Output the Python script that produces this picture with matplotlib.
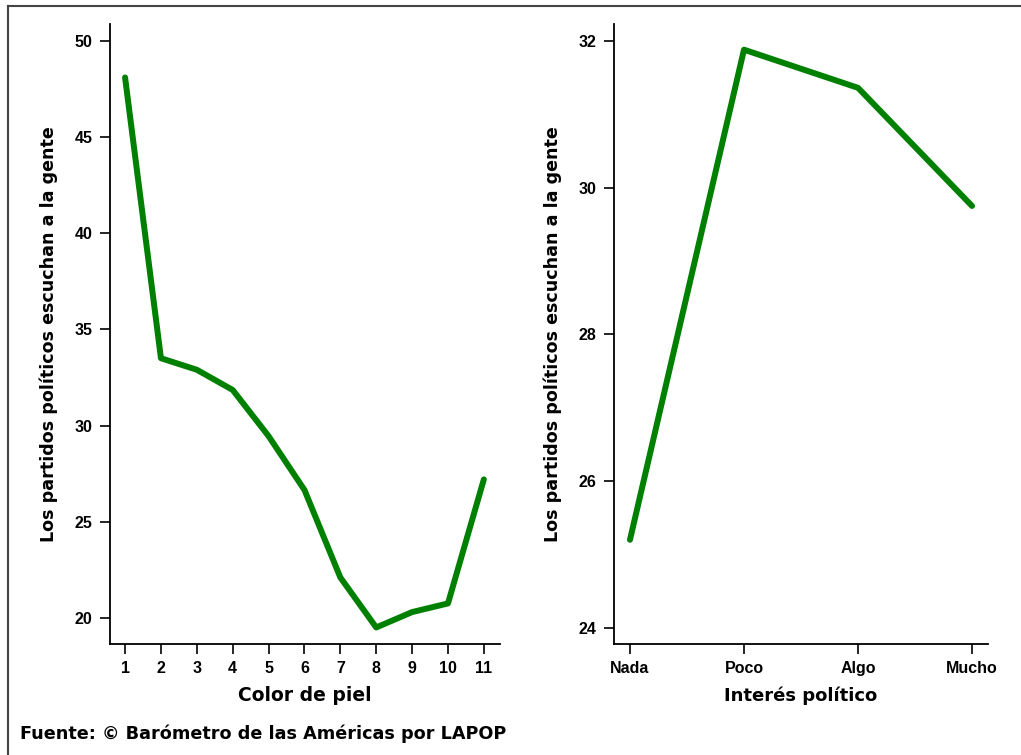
import numpy as np
import matplotlib.pyplot as plt
from matplotlib.lines import Line2D

plt.rcParams['font.family'] = ['Liberation Sans', 'DejaVu Sans']
plt.rcParams['font.weight'] = 'bold'
plt.rcParams['font.stretch'] = 'normal'

color_piel = [1, 2, 3, 4, 5, 6, 7, 8, 9, 10, 11]
escuchan_piel = [48.1, 33.5, 32.9, 31.85, 29.45, 26.65, 22.1, 19.5, 20.3, 20.75, 27.2]

interes = ['Nada', 'Poco', 'Algo', 'Mucho']
escuchan_interes = [25.2, 31.88, 31.36, 29.75]

ylabel = 'Los partidos políticos escuchan a la gente'
verde = '#008000'
fuente_lab = ['DejaVu Sans']

fig = plt.figure(figsize=(10.21, 7.55), dpi=100)

# marco exterior (solo se ven arriba e izquierda)
top = 1 - 5.5/755
izq = 7.5/1021
fig.lines.append(Line2D([izq, 1.0], [top, top], transform=fig.transFigure,
                        color='#444444', linewidth=1.5))
fig.lines.append(Line2D([izq, izq], [0.0, top], transform=fig.transFigure,
                        color='#444444', linewidth=1.5))

def estilo(ax, nombres=None):
    for s in ['top', 'right']:
        ax.spines[s].set_visible(False)
    for s in ['left', 'bottom']:
        ax.spines[s].set_linewidth(1.3)
    ax.tick_params(direction='out', length=7.5, width=1.2, pad=5)
    for lab in ax.get_xticklabels() + ax.get_yticklabels():
        lab.set_fontweight('bold')
        lab.set_fontstretch('normal')
        lab.set_family(['Liberation Sans'])

ax1 = fig.add_axes([110/1021, 1 - 644/755, 390/1021, 620/755])
ax1.plot(color_piel, escuchan_piel, color=verde, linewidth=4.3, solid_capstyle='round')
ax1.set_xlim(0.58, 11.45)
ax1.set_ylim(18.64, 50.88)
ax1.set_xticks(color_piel)
ax1.set_yticks([20, 25, 30, 35, 40, 45, 50])
ax1.tick_params(labelsize=11.5)
ax1.set_xlabel('Color de piel', fontsize=13.5, fontweight='bold', labelpad=7, family=fuente_lab)
ax1.set_ylabel(ylabel, fontsize=12.6, fontweight='bold', labelpad=12, family=fuente_lab)
estilo(ax1)

ax2 = fig.add_axes([614/1021, 1 - 644/755, 374/1021, 620/755])
x2 = np.arange(len(interes))
ax2.plot(x2, escuchan_interes, color=verde, linewidth=4.3, solid_capstyle='round')
ax2.set_xlim(-0.14, 3.14)
ax2.set_ylim(23.78, 32.23)
ax2.set_xticks(x2)
ax2.set_xticklabels(interes)
ax2.set_yticks([24, 26, 28, 30, 32])
ax2.tick_params(labelsize=11.5)
ax2.set_xlabel('Interés político', fontsize=13, fontweight='bold', labelpad=7, family=fuente_lab)
ax2.set_ylabel(ylabel, fontsize=12.6, fontweight='bold', labelpad=12, family=fuente_lab)
estilo(ax2)

fig.text(20/1021, 1 - 734/755, 'Fuente: © Barómetro de las Américas por LAPOP',
         fontsize=12.7, fontweight='bold', va='center', ha='left', family=fuente_lab)

fig.savefig('out.png', dpi=100)
